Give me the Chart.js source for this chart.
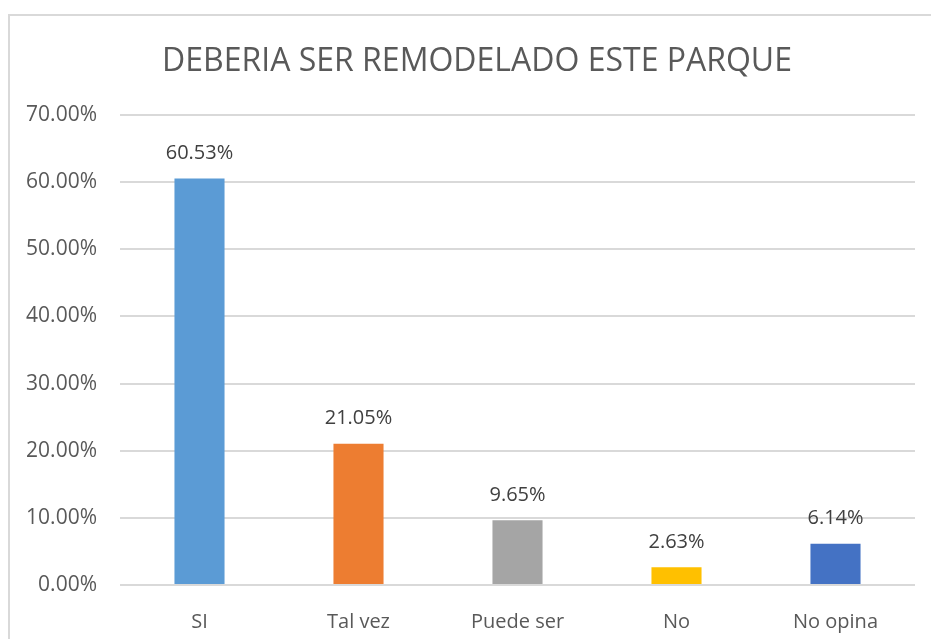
<!DOCTYPE html>
<html>
<head>
<meta charset="utf-8">
<script src="https://cdn.jsdelivr.net/npm/chart.js@4/dist/chart.umd.min.js"></script>
<style>
  html, body { margin: 0; padding: 0; background: #fff; }
  #wrap { position: relative; width: 931px; height: 639px; overflow: hidden; }
  #frame { position: absolute; left: 8px; top: 14px; width: 940px; height: 700px;
           border: 2px solid #d9d9d9; box-sizing: border-box; }
  canvas { position: absolute; left: 0; top: 0; }
</style>
</head>
<body>
<div id="wrap">
  <div id="frame"></div>
  <canvas id="chart" width="931" height="639"></canvas>
</div>
<script>
// ── Data ─────────────────────────────────────────────────────────
const categories = ['SI', 'Tal vez', 'Puede ser', 'No', 'No opina'];
const values     = [60.53, 21.05, 9.65, 2.63, 6.14];
const barColors  = ['#5B9BD5', '#ED7D31', '#A5A5A5', '#FFC000', '#4472C4'];
const yTicks     = [0, 10, 20, 30, 40, 50, 60, 70];
const titleText  = 'DEBERIA SER REMODELADO ESTE PARQUE';

const FONT = "'Open Sans', 'Liberation Sans', sans-serif";

// value labels above each bar
const barLabels = {
  id: 'barLabels',
  afterDatasetsDraw(chart) {
    const ctx = chart.ctx;
    const meta = chart.getDatasetMeta(0);
    ctx.save();
    ctx.font = '20px ' + FONT;
    ctx.fillStyle = '#404040';
    ctx.textAlign = 'center';
    ctx.textBaseline = 'middle';
    meta.data.forEach((bar, i) => {
      ctx.fillText(values[i].toFixed(2) + '%', bar.x, bar.y - 25);
    });
    ctx.restore();
  }
};

// chart title, centred over the frame rather than the canvas
const frameTitle = {
  id: 'frameTitle',
  afterDraw(chart) {
    const ctx = chart.ctx;
    ctx.save();
    ctx.font = '32px ' + FONT;
    ctx.fillStyle = '#595959';
    ctx.textAlign = 'center';
    ctx.textBaseline = 'middle';
    ctx.fillText(titleText, 477, 62);
    ctx.restore();
  }
};

new Chart(document.getElementById('chart'), {
  type: 'bar',
  data: {
    labels: categories,
    datasets: [{
      data: values,
      backgroundColor: barColors,
      borderWidth: 0,
      barPercentage: 0.315,
      categoryPercentage: 1
    }]
  },
  options: {
    responsive: false,
    animation: false,
    layout: { padding: { left: 0, right: 16, top: 115, bottom: 0 } },
    plugins: {
      legend: { display: false },
      tooltip: { enabled: false },
      title: { display: false }
    },
    scales: {
      x: {
        grid: { display: false },
        border: { display: false },
        ticks: { color: '#595959', font: { family: FONT, size: 20 }, padding: 17 },
        afterFit: s => { s.height = 54; }
      },
      y: {
        min: 0,
        max: 70,
        afterBuildTicks: s => { s.ticks = yTicks.map(v => ({ value: v })); },
        grid: { color: '#d9d9d9', lineWidth: 2, drawTicks: false },
        border: { display: false },
        ticks: {
          color: '#595959',
          font: { family: FONT, size: 21 },
          padding: 23,
          callback: v => v.toFixed(2) + '%'
        },
        afterFit: s => { s.width = 120; }
      }
    }
  },
  plugins: [barLabels, frameTitle]
});
</script>
</body>
</html>
